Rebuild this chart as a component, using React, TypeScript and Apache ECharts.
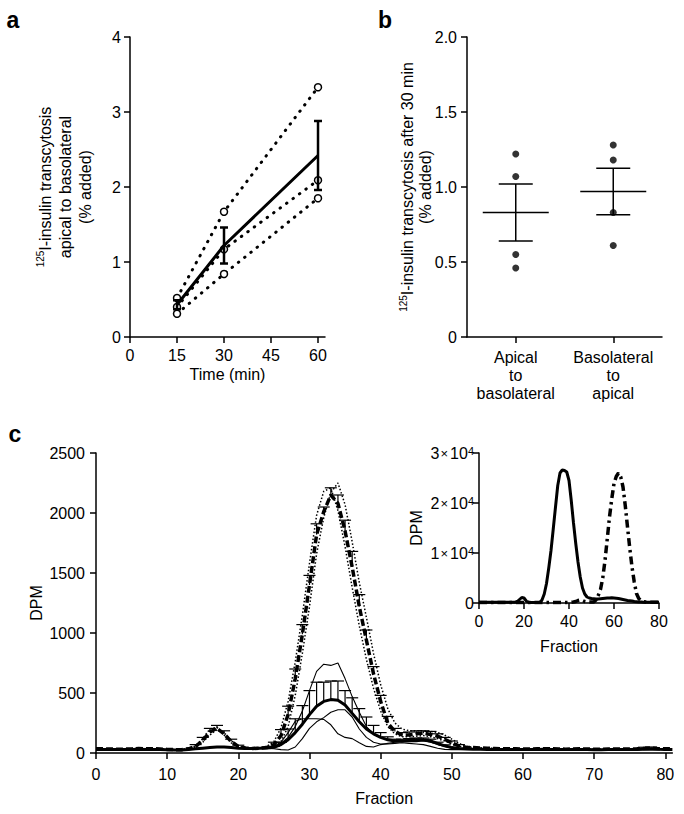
import React, { useEffect, useRef } from "react";
import * as echarts from "echarts";

// ---------- Panel a ----------
const timeMin = [15, 30, 60];
const replicateA1 = [0.52, 1.67, 3.33];
const replicateA2 = [0.4, 1.17, 2.09];
const replicateA3 = [0.31, 0.84, 1.85];
const meanA = [0.43, 1.22, 2.42];
const semA = [0.06, 0.24, 0.46];
const timeTicks = [0, 15, 30, 45, 60];

// ---------- Panel b ----------
const bCategories = ["Apical\nto\nbasolateral", "Basolateral\nto\napical"];
const bApical = [1.22, 1.07, 0.55, 0.46];
const bBasolateral = [1.28, 1.18, 0.83, 0.61];
const bMean = [0.83, 0.97];
const bSem = [0.19, 0.155];

// ---------- Panel c (main), fraction 0..81 ----------
const dashMean = [35,35,33,32,32,34,38,35,36,33, 30,28,28,35,55,105,175,205,160,95, 55,42,38,40,45,70,145,320,620,990, 1400,1820,2010,2150,2080,1850,1550,1220,940,660, 430,250,180,150,150,160,165,155,140,115, 85,60,48,45,42,40,38,36,35,35, 33,33,35,36,35,33,32,34,35,33, 32,32,33,34,33,33,35,38,40,36, 35,35];
const dashErr = [0,0,0,0,0,0,0,0,0,0, 0,0,0,0,15,25,30,25,25,20, 10,0,0,0,0,20,50,70,80,80, 80,90,40,60,70,90,130,100,85,60, 50,55,25,20,25,25,20,25,20,15, 15,10,0,0,0,0,0,0,0,0, 0,0,0,0,0,0,0,0,0,0, 0,0,0,0,0,0,0,10,10,0, 0,0];
const dotRep1 = [35,35,33,32,32,34,38,35,36,33, 30,28,28,38,60,120,200,215,150,85, 50,40,38,42,55,95,210,430,760,1150, 1580,1980,2180,2210,2020,1720,1380,1060,780,540, 350,220,160,135,135,140,145,135,120,100, 75,55,45,42,40,38,36,35,35,34, 33,33,35,36,35,33,32,34,35,33, 32,32,33,34,33,33,35,38,40,36, 35];
const dotRep2 = [35,35,33,32,32,34,38,35,36,33, 30,28,28,35,50,90,150,195,170,105, 60,45,38,38,40,50,95,220,480,830, 1220,1660,1960,2170,2250,2070,1760,1420,1130,830, 570,370,250,200,185,185,185,180,170,150, 115,80,55,48,44,40,38,36,35,35, 33,33,35,36,35,33,32,34,35,33, 32,32,33,34,33,33,35,38,40,36, 35];
const solidMean = [30,30,30,29,29,30,32,30,30,29, 27,26,26,30,35,40,45,50,50,45, 40,38,38,40,42,48,70,110,170,240, 320,390,430,445,440,400,330,260,200,160, 130,110,100,100,105,110,110,100,80,60, 45,38,34,32,31,30,30,30,30,30, 29,29,30,31,30,29,29,30,30,29, 28,28,29,30,29,29,30,32,33,31, 30,30];
const solidErr = [0,0,0,0,0,0,0,0,0,0, 0,0,0,0,0,0,0,0,0,0, 0,0,0,0,0,8,20,90,115,155, 200,200,160,155,160,120,130,110,100,70, 40,25,15,15,15,15,15,15,10,8, 0,0,0,0,0,0,0,0,0,0, 0,0,0,0,0,0,0,0,0,0, 0,0,0,0,0,0,0,0,0,0, 0,0];
const thinStart = 20;
const thinRep1 = [40,38,38,40,45,50,80,130,220,350, 520,680,740,730,750,620,470,340,220,160, 130,110,100,95,95,95,100,90,70,55, 40,35,32];
const thinRep2 = [40,38,38,40,38,35,28,25,50,120, 205,260,295,340,360,360,300,200,130,90, 75,75,80,85,80,75,70,55,40,30, 28,28,30];
const thinRep3 = [40,38,38,40,42,55,90,170,265,285, 285,285,280,235,160,130,120,85,55,50, 70,80,90,95,100,105,105,100,80,60, 45,38,32];
const fractionTicks = [0, 10, 20, 30, 40, 50, 60, 70, 80];

// ---------- Panel c (inset), fraction 0..80 ----------
const insetSolid = [150,150,150,150,150,150,150,150,150,150, 150,150,150,150,150,150,150,300,700,1100, 1000,400,150,100,100,100,100,100,600,1800, 3900,7000,10500,14800,19200,23500,26000,26600,26500,26200, 24500,20500,16000,11900,8200,5200,3000,1800,1200,1000, 900,850,800,800,850,900,950,1000,1000,1050, 1000,950,900,800,700,600,500,450,400,300, 250,200,200,150,150,150,150,150,150,150, 150];
const insetDashDot = [100,100,100,100,100,100,100,100,100,100, 100,100,100,100,100,100,100,100,100,100, 100,100,100,100,100,100,100,100,100,100, 100,100,100,100,100,100,100,100,100,100, 100,150,200,300,500,600,500,300,200,200, 200,200,600,1500,2700,5000,8500,12800,17200,20800, 23900,25300,26000,25200,23200,19500,15200,11000,7200,4200, 1900,900,500,300,200,150,150,150,150,150, 150];

const FONT = '"Liberation Sans", Arial, Helvetica, sans-serif';
const BLACK = "#000";

const pairs = (xs: number[], ys: (number | null)[]) => xs.map((x, i) => [x, ys[i]]);
const idxPairs = (ys: number[], start = 0) => ys.map((y, i) => [start + i, y]);

const axisLine = { show: true, onZero: false, lineStyle: { color: BLACK, width: 1.5 } };
const axisTick = (extra: any = {}) => ({ show: true, inside: false, length: 6, lineStyle: { color: BLACK, width: 1.5 }, ...extra });
const axisLabel = (extra: any = {}) => ({ color: BLACK, fontFamily: FONT, fontSize: 16, ...extra });
const nameStyle = (extra: any = {}) => ({ color: BLACK, fontFamily: FONT, fontSize: 16, ...extra });
const plain = (v: number) => String(v);

function symErrRender(hw: number, lw: number) {
  return (params: any, api: any) => {
    const x = api.value(0), m = api.value(1), e = api.value(2);
    const t = api.coord([x, m + e]);
    const b = api.coord([x, m - e]);
    const st = { stroke: BLACK, lineWidth: lw };
    return {
      type: "group",
      children: [
        { type: "line", shape: { x1: t[0], y1: t[1], x2: b[0], y2: b[1] }, style: st },
        { type: "line", shape: { x1: t[0] - hw, y1: t[1], x2: t[0] + hw, y2: t[1] }, style: st },
        { type: "line", shape: { x1: b[0] - hw, y1: b[1], x2: b[0] + hw, y2: b[1] }, style: st },
      ],
    };
  };
}

function upErrRender(hw: number, lw: number) {
  return (params: any, api: any) => {
    const x = api.value(0), m = api.value(1), e = api.value(2);
    if (!(e > 0)) return { type: "group", children: [] };
    const p0 = api.coord([x, m]);
    const p1 = api.coord([x, m + e]);
    const st = { stroke: BLACK, lineWidth: lw };
    return {
      type: "group",
      children: [
        { type: "line", shape: { x1: p0[0], y1: p0[1], x2: p1[0], y2: p1[1] }, style: st },
        { type: "line", shape: { x1: p1[0] - hw, y1: p1[1], x2: p1[0] + hw, y2: p1[1] }, style: st },
      ],
    };
  };
}

function meanSemRender(halfMean: number, halfCap: number, lw: number) {
  return (params: any, api: any) => {
    const x = api.value(0), m = api.value(1), e = api.value(2);
    const c = api.coord([x, m]);
    const t = api.coord([x, m + e]);
    const b = api.coord([x, m - e]);
    const st = { stroke: BLACK, lineWidth: lw };
    return {
      type: "group",
      children: [
        { type: "line", shape: { x1: c[0] - halfMean, y1: c[1], x2: c[0] + halfMean, y2: c[1] }, style: st },
        { type: "line", shape: { x1: t[0], y1: t[1], x2: b[0], y2: b[1] }, style: st },
        { type: "line", shape: { x1: t[0] - halfCap, y1: t[1], x2: t[0] + halfCap, y2: t[1] }, style: st },
        { type: "line", shape: { x1: b[0] - halfCap, y1: b[1], x2: b[0] + halfCap, y2: b[1] }, style: st },
      ],
    };
  };
}

const dottedA = { color: BLACK, width: 3, type: [0.5, 7.5], cap: "round" };
const openCircle = { color: "#fff", borderColor: BLACK, borderWidth: 1.5 };
const rich125 = (lh: number) => ({
  sup: { fontSize: 10, fontFamily: FONT, color: BLACK, verticalAlign: "top", lineHeight: lh },
});

const sci = (v: number) => (v === 0 ? "0" : `{n|${v / 10000}}{x|×}{n|10}{s|4}`);

function buildOption(): any {
  const fracAll = dashMean.map((_, i) => i);
  return {
    animation: false,
    backgroundColor: "#fff",
    textStyle: { fontFamily: FONT, color: BLACK },
    grid: [
      { left: 130, top: 37, width: 195, height: 300, containLabel: false, outerBoundsMode: "none" },
      { left: 467, top: 37, width: 195, height: 300, containLabel: false, outerBoundsMode: "none" },
      { left: 96, top: 453, width: 576.4, height: 300, containLabel: false, outerBoundsMode: "none" },
      { left: 479, top: 453, width: 180, height: 150, containLabel: false, outerBoundsMode: "none" },
    ],
    xAxis: [
      {
        type: "value", gridIndex: 0, min: 0, max: 62.23,
        axisLine, axisTick: axisTick({ customValues: timeTicks }),
        axisLabel: axisLabel({ customValues: timeTicks, margin: 10 }),
        splitLine: { show: false },
        name: "Time (min)", nameLocation: "middle", nameGap: 29, nameTextStyle: nameStyle(), nameMoveOverlap: false,
      },
      {
        type: "category", gridIndex: 1, data: bCategories, boundaryGap: true,
        axisLine, axisTick: axisTick({ alignWithLabel: true }),
        axisLabel: axisLabel({ interval: 0, lineHeight: 18, margin: 11 }),
        splitLine: { show: false },
      },
      {
        type: "value", gridIndex: 2, min: 0, max: 81,
        axisLine, axisTick: axisTick({ customValues: fractionTicks }),
        axisLabel: axisLabel({ customValues: fractionTicks, margin: 13, formatter: plain }),
        splitLine: { show: false },
        name: "Fraction", nameLocation: "middle", nameGap: 37, nameTextStyle: nameStyle(), nameMoveOverlap: false,
      },
      {
        type: "value", gridIndex: 3, min: 0, max: 80, interval: 20,
        axisLine, axisTick: axisTick(),
        axisLabel: axisLabel({ margin: 10, formatter: plain }),
        splitLine: { show: false },
        name: "Fraction", nameLocation: "middle", nameGap: 35, nameTextStyle: nameStyle(), nameMoveOverlap: false,
      },
    ],
    yAxis: [
      {
        type: "value", gridIndex: 0, min: 0, max: 4, interval: 1,
        axisLine, axisTick: axisTick(), axisLabel: axisLabel({ margin: 9 }),
        splitLine: { show: false },
        name: "{sup|125}I-insulin transcytosis\napical to basolateral\n(% added)",
        nameLocation: "middle", nameRotate: 90, nameGap: 35, nameMoveOverlap: false,
        nameTextStyle: nameStyle({ lineHeight: 20, rich: rich125(20) }),
      },
      {
        type: "value", gridIndex: 1, min: 0, max: 2, interval: 0.5,
        axisLine, axisTick: axisTick(),
        axisLabel: axisLabel({ margin: 10, formatter: (v: number) => (v === 0 ? "0" : v.toFixed(1)) }),
        splitLine: { show: false },
        name: "{sup|125}I-insulin transcytosis after 30 min\n(% added)",
        nameLocation: "middle", nameRotate: 90, nameGap: 33, nameMoveOverlap: false,
        nameTextStyle: nameStyle({ lineHeight: 18, rich: rich125(18) }),
      },
      {
        type: "value", gridIndex: 2, min: 0, max: 2500, interval: 500,
        axisLine, axisTick: axisTick(), axisLabel: axisLabel({ margin: 11, formatter: plain }),
        splitLine: { show: false },
        name: "DPM", nameLocation: "middle", nameRotate: 90, nameGap: 52, nameMoveOverlap: false,
        nameTextStyle: nameStyle(),
      },
      {
        type: "value", gridIndex: 3, min: 0, max: 30000, interval: 10000,
        axisLine, axisTick: axisTick(),
        axisLabel: axisLabel({
          margin: 5,
          formatter: sci,
          rich: {
            n: { fontSize: 16, fontFamily: FONT, color: BLACK },
            x: { fontSize: 13, fontFamily: FONT, color: BLACK, padding: [0, 2, 0, 1] },
            s: { fontSize: 11, fontFamily: FONT, color: BLACK, verticalAlign: "top" },
          },
        }),
        splitLine: { show: false },
        name: "DPM", nameLocation: "middle", nameRotate: 90, nameGap: 55, nameMoveOverlap: false,
        nameTextStyle: nameStyle(),
      },
    ],
    graphic: [
      { type: "text", x: 13, y: 20, style: { text: "a", fontFamily: FONT, fontSize: 23, fontWeight: "bold", fill: BLACK, align: "center", verticalAlign: "middle" } },
      { type: "text", x: 385, y: 20, style: { text: "b", fontFamily: FONT, fontSize: 23, fontWeight: "bold", fill: BLACK, align: "center", verticalAlign: "middle" } },
      { type: "text", x: 15, y: 434, style: { text: "c", fontFamily: FONT, fontSize: 23, fontWeight: "bold", fill: BLACK, align: "center", verticalAlign: "middle" } },
    ],
    series: [
      // ----- panel a -----
      ...[replicateA1, replicateA2, replicateA3].map((rep) => ({
        type: "line", xAxisIndex: 0, yAxisIndex: 0, data: pairs(timeMin, rep),
        symbol: "circle", symbolSize: 7, itemStyle: openCircle, lineStyle: dottedA, z: 2,
      })),
      {
        type: "line", xAxisIndex: 0, yAxisIndex: 0, data: pairs(timeMin, meanA),
        symbol: "none", lineStyle: { color: BLACK, width: 3 }, z: 3,
      },
      {
        type: "custom", xAxisIndex: 0, yAxisIndex: 0,
        data: timeMin.map((t, i) => [t, meanA[i], semA[i]]),
        renderItem: symErrRender(4, 2.5), z: 4,
      },
      // ----- panel b -----
      {
        type: "scatter", xAxisIndex: 1, yAxisIndex: 1, data: bApical.map((v) => [0, v]),
        symbol: "circle", symbolSize: 7, itemStyle: { color: BLACK },
      },
      {
        type: "scatter", xAxisIndex: 1, yAxisIndex: 1, data: bBasolateral.map((v) => [1, v]),
        symbol: "circle", symbolSize: 7, itemStyle: { color: BLACK },
      },
      {
        type: "custom", xAxisIndex: 1, yAxisIndex: 1,
        data: bMean.map((m, i) => [i, m, bSem[i]]),
        renderItem: meanSemRender(33, 17, 1.5), z: 3,
      },
      // ----- panel c main -----
      ...[dotRep1, dotRep2].map((rep) => ({
        type: "line", xAxisIndex: 2, yAxisIndex: 2, data: idxPairs(rep),
        symbol: "none", lineStyle: { color: BLACK, width: 1.5, type: [1.5, 2] }, z: 2,
      })),
      ...[thinRep1, thinRep2, thinRep3].map((rep) => ({
        type: "line", xAxisIndex: 2, yAxisIndex: 2, data: idxPairs(rep, thinStart),
        symbol: "none", lineStyle: { color: BLACK, width: 1.1 }, z: 2,
      })),
      {
        type: "custom", xAxisIndex: 2, yAxisIndex: 2,
        data: fracAll.map((f) => [f, solidMean[f], solidErr[f]]),
        renderItem: upErrRender(6, 1.2), z: 3,
      },
      {
        type: "line", xAxisIndex: 2, yAxisIndex: 2, data: idxPairs(solidMean),
        symbol: "none", lineStyle: { color: BLACK, width: 3 }, z: 4,
      },
      {
        type: "custom", xAxisIndex: 2, yAxisIndex: 2,
        data: fracAll.map((f) => [f, dashMean[f], dashErr[f]]),
        renderItem: upErrRender(6, 1.2), z: 3,
      },
      {
        type: "line", xAxisIndex: 2, yAxisIndex: 2, data: idxPairs(dashMean),
        symbol: "none", lineStyle: { color: BLACK, width: 3.5, type: [7, 3] }, z: 4,
      },
      // ----- panel c inset -----
      {
        type: "line", xAxisIndex: 3, yAxisIndex: 3, data: idxPairs(insetDashDot),
        symbol: "none", lineStyle: { color: BLACK, width: 3.5, type: [8, 4, 2.5, 4] }, z: 3,
      },
      {
        type: "line", xAxisIndex: 3, yAxisIndex: 3, data: idxPairs(insetSolid),
        symbol: "none", lineStyle: { color: BLACK, width: 3 }, z: 4,
      },
    ],
  };
}

export default function App() {
  const ref = useRef<HTMLDivElement>(null);
  useEffect(() => {
    if (!ref.current) return;
    const chart = echarts.init(ref.current, null, { renderer: "svg" });
    chart.setOption(buildOption());
    return () => chart.dispose();
  }, []);
  return (
    <div
      ref={ref}
      style={{ position: "fixed", left: 0, top: 0, width: 684, height: 814, background: "#fff" }}
    />
  );
}
